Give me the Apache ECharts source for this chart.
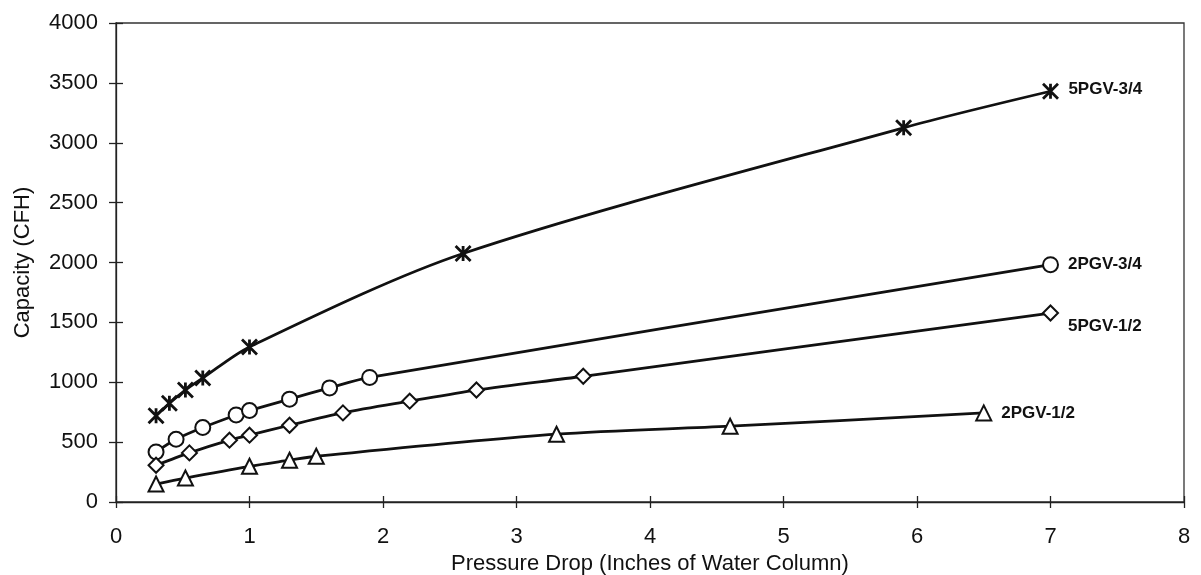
<!DOCTYPE html>
<html>
<head>
<meta charset="utf-8">
<script src="https://cdn.jsdelivr.net/npm/echarts@6/dist/echarts.min.js"></script>
<style>
html,body{margin:0;padding:0;background:#fff;}
#c{width:1201px;height:575px;}
</style>
</head>
<body>
<div id="c"></div>
<script>
// Data
var seriesNames = ['5PGV-3/4', '2PGV-3/4', '5PGV-1/2', '2PGV-1/2'];
var x5PGV34 = [0.3, 0.4, 0.52, 0.65, 1.0, 2.6, 5.9, 7.0];
var y5PGV34 = [720, 825, 935, 1035, 1295, 2075, 3125, 3430];
var x2PGV34 = [0.3, 0.45, 0.65, 0.9, 1.0, 1.3, 1.6, 1.9, 7.0];
var y2PGV34 = [418, 524, 622, 727, 764, 859, 953, 1040, 1982];
var x5PGV12 = [0.3, 0.55, 0.85, 1.0, 1.3, 1.7, 2.2, 2.7, 3.5, 7.0];
var y5PGV12 = [307, 410, 516, 558, 641, 744, 842, 935, 1050, 1578];
var x2PGV12 = [0.3, 0.52, 1.0, 1.3, 1.5, 3.3, 4.6, 6.5];
var y2PGV12 = [150, 200, 298, 349, 382, 566, 633, 744];
var xTicks = [0, 1, 2, 3, 4, 5, 6, 7, 8];
var yTicks = [0, 500, 1000, 1500, 2000, 2500, 3000, 3500, 4000];

var FONT = '"Liberation Sans", Arial, sans-serif';
var INK = '#111';
var asterisk = 'path://M0,0 L10,10 M10,0 L0,10 M5,0 L5,10';

function pairs(xs, ys) { return xs.map(function (x, i) { return [x, ys[i]]; }); }

function mkSeries(name, xs, ys, symbol, size, labelOffset) {
  var data = pairs(xs, ys);
  var last = data.length - 1;
  data = data.map(function (d, i) {
    if (i !== last) return d;
    return {
      value: d,
      label: {
        show: true, position: 'right', distance: 9, offset: labelOffset,
        formatter: name, fontFamily: FONT, fontSize: 17, color: INK, fontWeight: 'bold'
      }
    };
  });
  return {
    name: name, type: 'line', data: data, smooth: 0.3,
    symbol: symbol, symbolSize: size, showAllSymbol: true,
    lineStyle: { color: INK, width: 2.8 },
    itemStyle: { color: INK, borderColor: INK, borderWidth: 2.4 },
    emphasis: { disabled: true },
    z: 3
  };
}

var chart = echarts.init(document.getElementById('c'), null, { renderer: 'canvas' });
var s1 = mkSeries(seriesNames[0], x5PGV34, y5PGV34, asterisk, 15, [0, -2]);
s1.itemStyle = { color: INK, borderColor: INK, borderWidth: 2.8 };
var s2 = mkSeries(seriesNames[1], x2PGV34, y2PGV34, 'emptyCircle', 15, [0, 0]);
var s3 = mkSeries(seriesNames[2], x5PGV12, y5PGV12, 'emptyDiamond', 15, [0, 13]);
var s4 = mkSeries(seriesNames[3], x2PGV12, y2PGV12, 'emptyTriangle', 15, [0, 0]);

var tickStyle = { color: '#222', width: 1.3 };
var xMin = xTicks[0], xMax = xTicks[xTicks.length - 1];
var yMin = yTicks[0], yMax = yTicks[yTicks.length - 1];

chart.setOption({
  animation: false,
  backgroundColor: '#fff',
  grid: { left: 116, right: 17, top: 23, bottom: 73, containLabel: false, outerBoundsMode: 'none', show: true, borderColor: '#333', borderWidth: 1.3, backgroundColor: 'transparent' },
  xAxis: [{
    type: 'value', min: xMin, max: xMax, interval: 1, position: 'bottom',
    name: 'Pressure Drop (Inches of Water Column)', nameLocation: 'middle', nameGap: 50,
    nameTextStyle: { fontFamily: FONT, fontSize: 22, color: INK },
    axisLine: { show: true, lineStyle: tickStyle },
    axisTick: { show: true, length: 6, lineStyle: tickStyle },
    axisLabel: { fontFamily: FONT, fontSize: 22, color: INK, margin: 24, formatter: function (v) { return String(v); } },
    splitLine: { show: false }
  }, {
    type: 'value', min: xMin, max: xMax, interval: 1, position: 'bottom',
    axisLine: { show: false },
    axisTick: { show: true, inside: true, length: 6, lineStyle: tickStyle },
    axisLabel: { show: false }, splitLine: { show: false }
  }],
  yAxis: [{
    type: 'value', min: yMin, max: yMax, interval: 500, position: 'left',
    name: 'Capacity (CFH)', nameLocation: 'middle', nameGap: 82, nameRotate: 90,
    nameTextStyle: { fontFamily: FONT, fontSize: 22, color: INK },
    axisLine: { show: true, lineStyle: tickStyle },
    axisTick: { show: true, length: 7, lineStyle: tickStyle },
    axisLabel: { fontFamily: FONT, fontSize: 22, color: INK, margin: 18, formatter: function (v) { return String(v); } },
    splitLine: { show: false }
  }, {
    type: 'value', min: yMin, max: yMax, interval: 500, position: 'left',
    axisLine: { show: false },
    axisTick: { show: true, inside: true, length: 7, lineStyle: tickStyle },
    axisLabel: { show: false }, splitLine: { show: false }
  }],
  series: [s1, s2, s3, s4]
});
</script>
</body>
</html>
